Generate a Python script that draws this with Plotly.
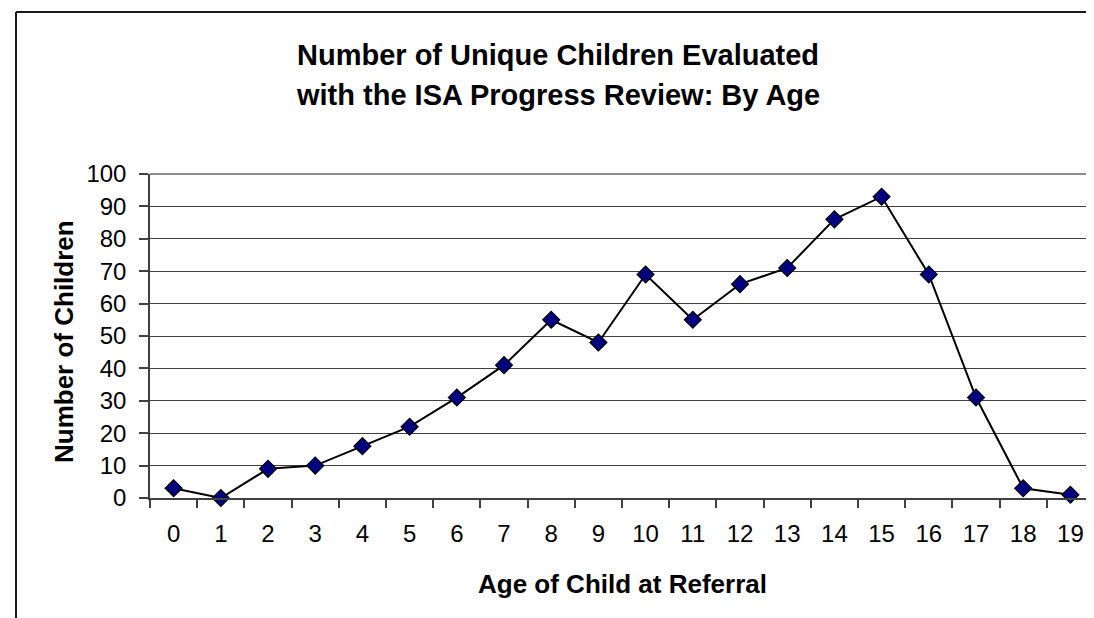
import plotly.graph_objects as go

ages = [str(i) for i in range(20)]
children = [3, 0, 9, 10, 16, 22, 31, 41, 55, 48, 69, 55, 66, 71, 86, 93, 69, 31, 3, 1]
y_ticks = list(range(0, 101, 10))

title_lines = ["Number of Unique Children Evaluated", "with the ISA Progress Review: By Age"]
x_title = "Age of Child at Referral"
y_title = "Number of Children"

W, H = 1094, 618
L, R, T, B = 142, 1086, 166, 490
pw, ph = R - L, B - T

def px(x):
    return (x - L) / pw

def py(y):
    return (B - y) / ph

FONT = "Liberation Sans, Arial, sans-serif"

fig = go.Figure()
fig.add_trace(go.Scatter(
    x=ages, y=children, mode="lines+markers",
    line=dict(color="black", width=2),
    marker=dict(symbol="diamond", size=13, color="#000080",
                line=dict(color="black", width=1.2)),
    cliponaxis=False, showlegend=False,
))

fig.update_layout(
    width=W, height=H,
    margin=dict(l=L, r=W - R, t=T, b=H - B, pad=0),
    paper_bgcolor="white", plot_bgcolor="white",
    font=dict(family=FONT, color="black"),
    xaxis=dict(
        type="category", range=[-0.5, 19.5],
        tickson="boundaries", ticks="outside", ticklen=8, tickcolor="#404040", tickwidth=1.5,
        showgrid=False, showline=True, linecolor="#404040", linewidth=1.5,
        tickfont=dict(size=24), zeroline=False, ticklabelstandoff=13,
    ),
    yaxis=dict(
        range=[0, 100], tickvals=y_ticks, ticks="outside", ticklen=9,
        tickcolor="#404040", tickwidth=1.5,
        showgrid=True, gridcolor="#404040", gridwidth=1,
        showline=True, linecolor="#404040", linewidth=1.5,
        tickfont=dict(size=24), zeroline=False, ticklabelstandoff=8,
    ),
)

shapes = [
    dict(type="line", xref="paper", yref="paper", x0=0, x1=1, y0=1, y1=1,
         line=dict(color="#8c8c8c", width=2)),
    dict(type="line", xref="paper", yref="paper", x0=1, x1=1, y0=0, y1=1,
         line=dict(color="#8c8c8c", width=2)),
    dict(type="line", xref="paper", yref="paper", x0=px(8), x1=px(8), y0=py(4), y1=py(640),
         line=dict(color="#1a1a1a", width=2)),
    dict(type="line", xref="paper", yref="paper", x0=px(8), x1=px(1110), y0=py(4), y1=py(4),
         line=dict(color="#1a1a1a", width=2)),
]
fig.update_layout(shapes=shapes)

annotations = [
    dict(text="<b>%s</b>" % title_lines[0], x=px(550), y=py(47), xref="paper", yref="paper",
         showarrow=False, font=dict(size=29, family=FONT), xanchor="center", yanchor="middle"),
    dict(text="<b>%s</b>" % title_lines[1], x=px(550), y=py(87), xref="paper", yref="paper",
         showarrow=False, font=dict(size=29, family=FONT), xanchor="center", yanchor="middle"),
    dict(text="<b>%s</b>" % x_title, x=px(614), y=py(576), xref="paper", yref="paper",
         showarrow=False, font=dict(size=26, family=FONT), xanchor="center", yanchor="middle"),
    dict(text="<b>%s</b>" % y_title, x=px(56), y=py(334), xref="paper", yref="paper",
         showarrow=False, font=dict(size=26, family=FONT), xanchor="center", yanchor="middle",
         textangle=-90),
]
fig.update_layout(annotations=annotations)

fig.write_html("out.html")
